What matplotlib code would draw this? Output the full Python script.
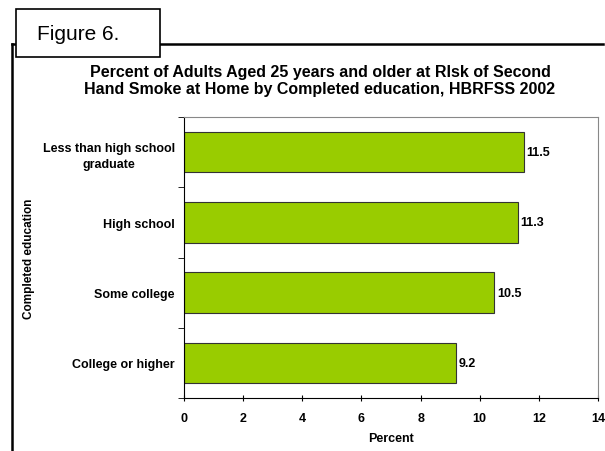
import matplotlib.pyplot as plt
from matplotlib.patches import Rectangle
from matplotlib.lines import Line2D

categorias = ["Less than high school\ngraduate", "High school", "Some college", "College or higher"]
valores = [11.5, 11.3, 10.5, 9.2]
ticks_x = [0, 2, 4, 6, 8, 10, 12, 14]

plt.rcParams['font.family'] = ['Liberation Sans', 'DejaVu Sans']

fig = plt.figure(figsize=(6.05, 4.52), dpi=100)
ax = fig.add_axes([184/605, 1-399/452, (598-184)/605, (399-118)/452])

# marco exterior
fig.add_artist(Line2D([12/605, 12/605], [0, 1-45/452], color='black', lw=1.8, transform=fig.transFigure))
fig.add_artist(Line2D([12/605, 603/605], [1-45/452, 1-45/452], color='black', lw=1.8, transform=fig.transFigure))
fig.add_artist(Rectangle((16/605, 1-58/452), (160-16)/605, (58-10)/452, transform=fig.transFigure,
                         facecolor='white', edgecolor='black', lw=1.2, zorder=5))
fig.text(37/605, 1-34/452, "Figure 6.", fontsize=15, va='center', ha='left', zorder=6)

pos = list(range(len(categorias)))[::-1]
ax.barh(pos, valores, height=0.58, color='#99CC00', edgecolor='#333333', linewidth=0.8)
for p, v in zip(pos, valores):
    ax.text(v + 0.08, p, f"{v}", va='center', ha='left', fontsize=9, fontweight='bold')

ax.set_xlim(0, 14)
ax.set_ylim(-0.5, 3.5)
ax.set_xticks(ticks_x)
ax.set_xticklabels([str(t) for t in ticks_x], fontsize=9, fontweight='bold')
ax.set_yticks(pos)
ax.set_yticklabels(categorias, fontsize=9, fontweight='bold', ha='right',
                   multialignment='center', linespacing=1.5)
ax.tick_params(axis='y', pad=6.5, length=0)
ax.set_yticks([-0.5, 0.5, 1.5, 2.5, 3.5], minor=True)
ax.tick_params(axis='y', which='minor', length=4, direction='out')
ax.tick_params(axis='x', length=4, direction='inout', pad=8)
ax.set_xlabel("Percent", fontsize=9, fontweight='bold')
ax.xaxis.set_label_coords(0.5, -0.121)
ax.set_ylabel("Completed education", fontsize=8.5, fontweight='bold')
ax.yaxis.set_label_coords(-0.36, 0.5)

for s in ['top', 'right']:
    ax.spines[s].set_color('#888888')
    ax.spines[s].set_linewidth(0.8)

fig.text(320/605, 1-81/452, "Percent of Adults Aged 25 years and older at RIsk of Second\nHand Smoke at Home by Completed education, HBRFSS 2002",
         ha='center', va='center', fontsize=11.5, fontweight='bold', linespacing=1.2)

plt.savefig("out.png", dpi=100)
